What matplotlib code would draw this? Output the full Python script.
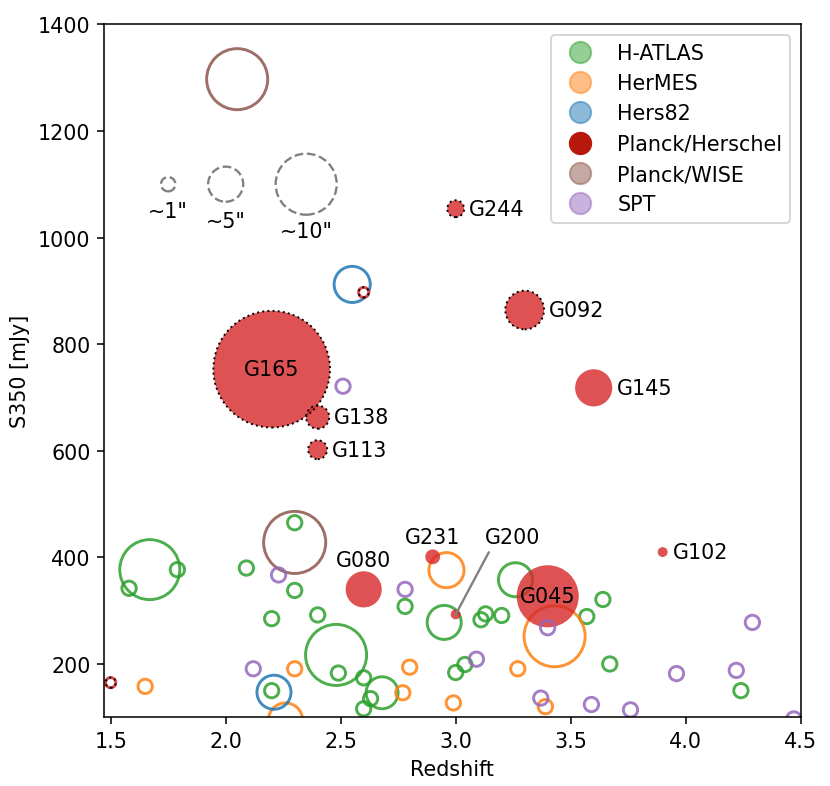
import matplotlib
matplotlib.use('Agg')
import matplotlib.pyplot as plt
from matplotlib.lines import Line2D
import numpy as np

plt.rcParams['font.size'] = 10.6

# ---- data: redshift, S350 [mJy], Einstein radius [arcsec] ----
hatlas_z = [1.67, 1.79, 1.58, 2.09, 2.30, 2.30, 2.20, 2.20, 2.40, 2.48, 2.49, 2.60, 2.68,
            2.63, 2.60, 2.78, 2.95, 3.00, 3.04, 3.13, 3.11, 3.20, 3.26, 3.57, 3.64, 3.67, 4.24]
hatlas_s350 = [377, 377, 342, 380, 465, 338, 285, 150, 292, 217, 183, 174, 146,
               135, 116, 308, 278, 184, 199, 294, 283, 291, 358, 289, 321, 200, 150]
hatlas_theta = [9.8, 1, 1, 1, 1, 1, 1, 1, 1, 10, 1, 1, 4.4,
                1, 1, 1, 4.8, 1, 1, 1, 1, 1, 4.8, 1, 1, 1, 1]

hermes_z = [1.65, 2.30, 2.26, 2.77, 2.80, 2.96, 2.99, 3.27, 3.39, 3.43]
hermes_s350 = [158, 191, 95, 146, 194, 376, 127, 191, 120, 252]
hermes_theta = [1, 1, 4.8, 1, 1, 5.0, 1, 1, 1, 10]

hers82_z = [2.55, 2.21]
hers82_s350 = [912, 147]
hers82_theta = [5.2, 4.8]

planck_names = ['G165', 'G138', 'G113', 'G092', 'G244', 'G145', 'G080', 'G231', 'G200',
                'G045', 'G102', '', '']
planck_z = [2.20, 2.40, 2.40, 3.30, 3.00, 3.60, 2.60, 2.90, 3.00, 3.40, 3.90, 1.50, 2.60]
planck_s350 = [753, 663, 602, 864, 1054, 718, 340, 401, 293, 327, 410, 165, 897]
planck_theta = [20.7, 2.7, 1.9, 5.7, 1.5, 5.4, 5.2, 1.1, 0.15, 10.2, 0.15, 0.2, 0.2]
planck_style = ['dotted', 'dotted', 'dotted', 'dotted', 'dotted', 'solid', 'solid', 'solid',
                'solid', 'solid', 'solid', 'open', 'open']

wise_z = [2.05, 2.30]
wise_s350 = [1297, 428]
wise_theta = [10, 10.2]

spt_z = [2.23, 2.12, 2.51, 2.78, 3.09, 3.40, 3.37, 3.59, 3.76, 3.96, 4.22, 4.29, 4.47]
spt_s350 = [367, 191, 721, 340, 209, 268, 136, 124, 114, 182, 188, 278, 97]
spt_theta = [1] * 13

scale_theta = [1, 5, 10]
scale_labels = ['~1"', '~5"', '~10"']
scale_z = [1.75, 2.0, 2.35]
scale_s350 = 1100
scale_label_y = [1050, 1031, 1012]


def theta_to_s(theta):
    return (4.7 + 2.67 * np.asarray(theta, dtype=float)) ** 2


fig = plt.figure(figsize=(830 / 140, 787 / 140), dpi=140)
ax = fig.add_axes([0.1253, 0.0873, 0.8394, 0.8806])

surveys = [
    ('H-ATLAS', 'tab:green', hatlas_z, hatlas_s350, hatlas_theta),
    ('HerMES', 'tab:orange', hermes_z, hermes_s350, hermes_theta),
    ('Hers82', 'tab:blue', hers82_z, hers82_s350, hers82_theta),
]
for name, col, z, s350, th in surveys:
    ax.scatter(z, s350, s=theta_to_s(th), facecolors='none', edgecolors=col,
               linewidths=1.5, alpha=0.85)

# Planck/Herschel
pz = np.array(planck_z)
ps = np.array(planck_s350)
pt = np.array(planck_theta)
sty = np.array(planck_style)
filled = sty != 'open'
ax.scatter(pz[filled], ps[filled], s=theta_to_s(pt[filled]), facecolors='tab:red',
           edgecolors='none', alpha=0.8)
opn = sty == 'open'
ax.scatter(pz[opn], ps[opn], s=theta_to_s(pt[opn]), facecolors='white',
           edgecolors='tab:red', linewidths=1.5, alpha=0.85)
dot = (sty == 'dotted') | opn
ax.scatter(pz[dot], ps[dot], s=theta_to_s(pt[dot]), facecolors='none',
           edgecolors='k', linewidths=1.0, linestyle=':')

ax.scatter(wise_z, wise_s350, s=theta_to_s(wise_theta), facecolors='none',
           edgecolors='tab:brown', linewidths=1.5, alpha=0.85)
ax.scatter(spt_z, spt_s350, s=theta_to_s(spt_theta), facecolors='none',
           edgecolors='tab:purple', linewidths=1.5, alpha=0.85)

# size scale
ax.scatter(scale_z, [scale_s350] * 3, s=theta_to_s(scale_theta), facecolors='none',
           edgecolors='gray', linewidths=1.2, linestyle='--')
for zz, lab, yy in zip(scale_z, scale_labels, scale_label_y):
    ax.text(zz, yy, lab, ha='center', va='center')

# labels of the Planck sources
special = {'G165': (0, 0), 'G045': (0, 0), 'G080': (0, 15), 'G231': (0, 10.3)}
for name, z, s350, th in zip(planck_names, planck_z, planck_s350, planck_theta):
    if name == '':
        continue
    r = np.sqrt(theta_to_s(th)) / 2
    if name == 'G200':
        ax.annotate(name, xy=(z, s350), xytext=(29.4, 40), textcoords='offset points',
                    ha='center', va='center',
                    arrowprops=dict(arrowstyle='-', color='gray', lw=1.2,
                                    relpos=(0.12, 0), shrinkA=1, shrinkB=0))
    elif name in special:
        ax.annotate(name, xy=(z, s350), xytext=special[name], textcoords='offset points',
                    ha='center', va='center')
    else:
        ax.annotate(name, xy=(z, s350), xytext=(r + 2.5, 0), textcoords='offset points',
                    ha='left', va='center')

ax.set_xlim(1.471, 4.5)
ax.set_ylim(100, 1400)
ax.set_xlabel('Redshift')
ax.set_ylabel('S350 [mJy]')

handles = [
    Line2D([], [], marker='o', ls='', ms=11, color='tab:green', alpha=0.5),
    Line2D([], [], marker='o', ls='', ms=11, color='tab:orange', alpha=0.5),
    Line2D([], [], marker='o', ls='', ms=11, color='tab:blue', alpha=0.5),
    Line2D([], [], marker='o', ls='', ms=11, color='#b8170b'),
    Line2D([], [], marker='o', ls='', ms=11, color='tab:brown', alpha=0.5),
    Line2D([], [], marker='o', ls='', ms=11, color='tab:purple', alpha=0.5),
]
labels = ['H-ATLAS', 'HerMES', 'Hers82', 'Planck/Herschel', 'Planck/WISE', 'SPT']
ax.legend(handles, labels, loc='upper right')

fig.savefig('out.png', dpi=140)
